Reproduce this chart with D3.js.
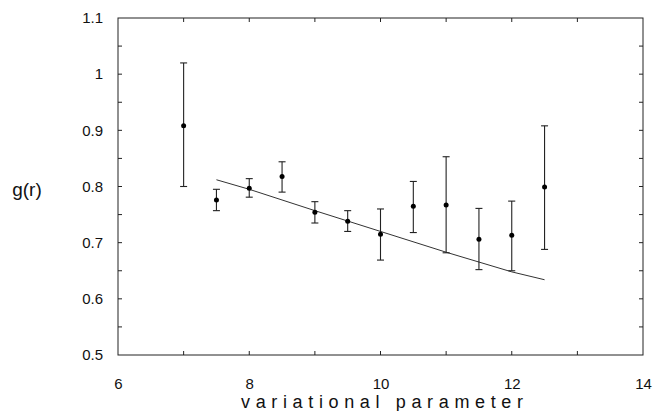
<!DOCTYPE html>
<html><head><meta charset="utf-8">
<script src="https://cdn.jsdelivr.net/npm/d3@7"></script>
<style>
body{margin:0;background:#fff;}
svg{display:block;}
text{font-family:"Liberation Sans",Arial,sans-serif;fill:#111;}
</style></head>
<body><svg id="c" width="657" height="411"></svg>
<script>
// Data
const xVals   = [7, 7.5, 8, 8.5, 9, 9.5, 10, 10.5, 11, 11.5, 12, 12.5];
const yVals   = [0.908, 0.776, 0.797, 0.818, 0.754, 0.738, 0.715, 0.765, 0.767, 0.706, 0.713, 0.799];
const yUpper  = [1.020, 0.795, 0.814, 0.844, 0.773, 0.757, 0.760, 0.809, 0.853, 0.761, 0.774, 0.908];
const yLower  = [0.800, 0.757, 0.781, 0.790, 0.735, 0.720, 0.669, 0.718, 0.682, 0.652, 0.650, 0.688];
const fitX    = [7.5, 8, 9, 10, 11, 12, 12.5];
const fitY    = [0.812, 0.795, 0.757, 0.720, 0.683, 0.648, 0.634];
const xTicks  = [6, 8, 10, 12, 14];
const yTicks  = [0.5, 0.6, 0.7, 0.8, 0.9, 1.0, 1.1];
const yTickLabels = ["0.5","0.6","0.7","0.8","0.9","1","1.1"];
const xMinor  = [7, 8, 9, 10, 11, 12, 13];
const yMinor  = [0.55,0.6,0.65,0.7,0.75,0.8,0.85,0.9,0.95,1.0,1.05];

const svg = d3.select("#c");
const L = 118, R = 643, T = 18, B = 355;
const x = d3.scaleLinear().domain([6, 14]).range([L, R]);
const y = d3.scaleLinear().domain([0.5, 1.1]).range([B, T]);
const ink = "#222";
const FONT = '"Liberation Sans",Arial,sans-serif';

// frame
svg.append("rect").attr("x", L).attr("y", T).attr("width", R - L).attr("height", B - T)
  .attr("fill", "none").attr("stroke", ink).attr("stroke-width", 1);

// inward ticks on all four sides
const tk = 4;
const g = svg.append("g").attr("stroke", ink).attr("stroke-width", 1);
yMinor.forEach(v => {
  g.append("line").attr("x1", L).attr("x2", L + tk).attr("y1", y(v)).attr("y2", y(v));
  g.append("line").attr("x1", R).attr("x2", R - tk).attr("y1", y(v)).attr("y2", y(v));
});
xMinor.forEach(v => {
  g.append("line").attr("x1", x(v)).attr("x2", x(v)).attr("y1", B).attr("y2", B - tk);
  g.append("line").attr("x1", x(v)).attr("x2", x(v)).attr("y1", T).attr("y2", T + tk);
});

// tick labels via d3 axes
const ax = svg.append("g").attr("transform", `translate(0,${B})`)
  .call(d3.axisBottom(x).tickValues(xTicks).tickSize(0).tickPadding(23).tickFormat(d3.format("d")));
ax.select(".domain").remove();
ax.selectAll("text").attr("font-size", 15).style("font-family", FONT).attr("fill", "#111");

const ay = svg.append("g").attr("transform", `translate(${L},0)`)
  .call(d3.axisLeft(y).tickValues(yTicks).tickSize(0).tickPadding(15).tickFormat((d, i) => yTickLabels[i]));
ay.select(".domain").remove();
ay.selectAll("text").attr("font-size", 15).style("font-family", FONT).attr("fill", "#111");

// fit line
svg.append("path").datum(fitX.map((d, i) => [d, fitY[i]]))
  .attr("d", d3.line().x(d => x(d[0])).y(d => y(d[1])))
  .attr("fill", "none").attr("stroke", "#333").attr("stroke-width", 1);

// error bars
const eb = svg.append("g").attr("stroke", ink).attr("stroke-width", 1.1);
xVals.forEach((xv, i) => {
  const cx = x(xv);
  eb.append("line").attr("x1", cx).attr("x2", cx).attr("y1", y(yUpper[i])).attr("y2", y(yLower[i]));
  eb.append("line").attr("x1", cx - 3.5).attr("x2", cx + 3.5).attr("y1", y(yUpper[i])).attr("y2", y(yUpper[i]));
  eb.append("line").attr("x1", cx - 3.5).attr("x2", cx + 3.5).attr("y1", y(yLower[i])).attr("y2", y(yLower[i]));
});
svg.append("g").selectAll("circle").data(xVals).join("circle")
  .attr("cx", d => x(d)).attr("cy", (d, i) => y(yVals[i])).attr("r", 2.5).attr("fill", "#000");

// titles
svg.append("text").attr("x", 27).attr("y", 196).attr("text-anchor", "middle")
  .attr("font-size", 19).text("g(r)");
svg.append("text").attr("x", 382).attr("y", 408).attr("text-anchor", "middle")
  .attr("font-size", 18).attr("textLength", 282).attr("lengthAdjust", "spacing")
  .text("variational parameter");
</script></body></html>
